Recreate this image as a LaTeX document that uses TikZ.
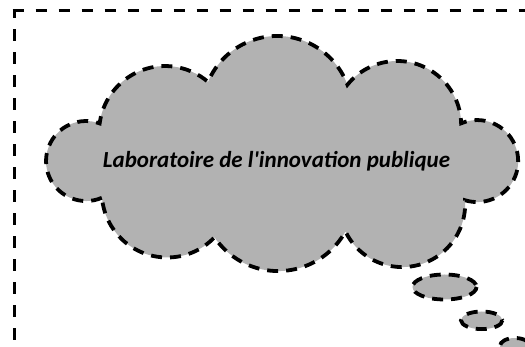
\documentclass[tikz,border=0pt]{standalone}
\usepackage{fontspec}
\newfontfamily\labfont{Carlito}

\begin{document}
\begin{tikzpicture}[x=1pt, y=1pt, yscale=-1,
        frameline/.style = {line width=3.8pt, dash pattern=on 11.5pt off 11.5pt},
        puffline/.style = {draw=black, fill=black!30, line width=3.8pt, dash pattern=on 11pt off 8pt}]
        \useasboundingbox (0,0) rectangle (525,347);
        % outer frame, runs off the page
        \draw[frameline] (12.6,10.5) -- (540,10.5);
        \draw[frameline, dash phase=4pt] (14.5,10.5) -- (14.5,360);
        % the cloud, one arc per lobe
        \draw[puffline] (101.8,197.8)
            arc[start angle=66.8, end angle=289.9, radius=40]
            arc[start angle=187.5, end angle=310.6, radius=66]
            arc[start angle=202.8, end angle=339.5, radius=75]
            arc[start angle=219.0, end angle=358.5, radius=64]
            arc[start angle=247.0, end angle=467.2, radius=41]
            arc[start angle=-3.5, end angle=154.2, radius=63]
            arc[start angle=29.1, end angle=145.8, radius=77]
            arc[start angle=43.8, end angle=174.9, radius=65.5] -- cycle;
        % thought bubbles
        \draw[puffline] (444.5,287) ellipse [x radius=32, y radius=12.5];
        \draw[puffline] (481.7,320.3) ellipse [x radius=20.7, y radius=8.8];
        \draw[puffline] (515,346) ellipse [x radius=15, y radius=8];
        \node (lab) at (276.5,168) [anchor=base, font=\labfont\bfseries\itshape\fontsize{23}{27}\selectfont] {Laboratoire de l\textquotesingle innovation publique};
\end{tikzpicture}
\end{document}
